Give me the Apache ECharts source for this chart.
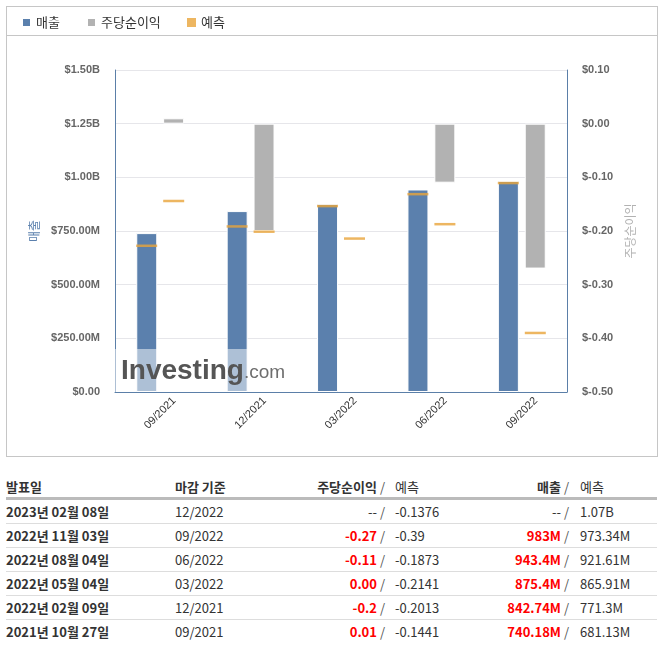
<!DOCTYPE html>
<html>
<head>
<meta charset="utf-8">
<script src="https://cdn.jsdelivr.net/npm/echarts@6/dist/echarts.min.js"></script>
<style>
  body { margin: 0; background: #fff; font-family: "Noto Sans CJK KR", sans-serif; }
  #box { position: absolute; left: 6px; top: 6px; width: 650px; height: 449px; border: 1px solid #c6c6c6; }
  #sep { position: absolute; left: 6px; top: 35px; width: 652px; height: 0; border-top: 1px solid #c6c6c6; }
  #chart { position: absolute; left: 0; top: 0; width: 664px; height: 460px; }
  table { position: absolute; left: 6px; top: 475px; border-collapse: collapse; table-layout: fixed; width: 651px; font-size: 13px; color: #333; }
  td, th { height: 23px; padding: 0; white-space: nowrap; }
  th { font-weight: bold; text-align: left; border-bottom: 3px solid #bbb; height: 22px; }
  td { border-bottom: 1px solid #ddd; }
  tr:last-child td { border-bottom: none; }
  .r { text-align: right; }
  .pl { padding-left: 10px; }
  .pl2 { padding-left: 11px; }
  .date { font-weight: bold; }
  .red { color: #ff0000; font-weight: bold; }
  .sl { color: #555; font-weight: normal; }
</style>
</head>
<body>
<div id="box"></div>
<div id="sep"></div>
<div id="chart"></div>
<table id="tbl">
  <colgroup>
    <col style="width:169px"><col style="width:110px"><col style="width:100px">
    <col style="width:90px"><col style="width:94px"><col style="width:88px">
  </colgroup>
  <thead>
    <tr><th>발표일</th><th>마감 기준</th><th class="r">주당순이익 <span class="sl">/</span></th>
        <th class="pl" style="font-weight:normal">예측</th><th class="r">매출 <span class="sl">/</span></th>
        <th class="pl2" style="font-weight:normal">예측</th></tr>
  </thead>
  <tbody id="rows"></tbody>
</table>
<script>
// chart data
const periods = ['09/2021', '12/2021', '03/2022', '06/2022', '09/2022'];
const revenue = [740.18e6, 842.74e6, 875.4e6, 943.4e6, 983e6];
const revenueForecast = [681.13e6, 771.3e6, 865.91e6, 921.61e6, 973.34e6];
const eps = [0.01, -0.2, 0.00, -0.11, -0.27];
const epsForecast = [-0.1441, -0.2013, -0.2141, -0.1873, -0.39];

// table data
const releaseDates = ['2023년 02월 08일', '2022년 11월 03일', '2022년 08월 04일', '2022년 05월 04일', '2022년 02월 09일', '2021년 10월 27일'];
const tablePeriods = ['12/2022', '09/2022', '06/2022', '03/2022', '12/2021', '09/2021'];
const epsText = ['--', '-0.27', '-0.11', '0.00', '-0.2', '0.01'];
const epsForecastText = ['-0.1376', '-0.39', '-0.1873', '-0.2141', '-0.2013', '-0.1441'];
const revText = ['--', '983M', '943.4M', '875.4M', '842.74M', '740.18M'];
const revForecastText = ['1.07B', '973.34M', '921.61M', '865.91M', '771.3M', '681.13M'];

const blue = '#5b80ad', gray = '#b2b2b2', orange = '#e9a43a';

function fmtRev(v) {
  if (v >= 1e9) return '$' + (v / 1e9).toFixed(2) + 'B';
  if (v > 0) return '$' + (v / 1e6).toFixed(2) + 'M';
  return '$0.00';
}

const chart = echarts.init(document.getElementById('chart'), null, { renderer: 'canvas' });
const legendText = { fontSize: 13, color: '#333', fontFamily: 'Noto Sans CJK KR' };
const mkLegend = (name, left) => ({
  data: [{ name: name, icon: 'rect' }], left: left, top: 11,
  itemWidth: 9, itemHeight: 9, itemGap: 4, textStyle: legendText, selectedMode: false
});

// a zero-height bar should not cut the grid line with its white border
const epsData = eps.map(v => v === 0 ? { value: v, itemStyle: { borderWidth: 0 } } : v);

chart.setOption({
  animation: false,
  legend: [mkLegend('매출', 16), mkLegend('주당순이익', 81), mkLegend('예측', 182)],
  grid: { left: 115, right: 97, top: 70, bottom: 68 },
  xAxis: {
    type: 'category', data: periods,
    axisLine: { lineStyle: { color: '#5b7fa8' } },
    axisTick: { lineStyle: { color: '#5b7fa8' }, length: 5 },
    axisLabel: { rotate: 45, align: 'center', verticalAlign: 'middle', fontSize: 11, color: '#333', fontFamily: 'Liberation Sans', margin: 21 }
  },
  yAxis: [{
    type: 'value', min: 0, max: 1.5e9, interval: 2.5e8,
    name: '매출', nameLocation: 'middle', nameGap: 73,
    nameTextStyle: { color: blue, fontSize: 12, fontFamily: 'Noto Sans CJK KR' },
    axisLine: { show: true, lineStyle: { color: '#5b7fa8' } },
    axisTick: { show: false },
    axisLabel: { formatter: fmtRev, fontSize: 11, fontWeight: 'bold', color: '#666', fontFamily: 'Liberation Sans', margin: 15 },
    splitLine: { lineStyle: { color: '#e6e6ea' } }
  }, {
    type: 'value', min: -0.5, max: 0.1, interval: 0.1,
    name: '주당순이익', nameLocation: 'middle', nameGap: 54,
    nameTextStyle: { color: gray, fontSize: 12, fontFamily: 'Noto Sans CJK KR' },
    axisLine: { show: true, lineStyle: { color: '#5b7fa8' } },
    axisTick: { show: false },
    axisLabel: { formatter: v => '$' + v.toFixed(2), fontSize: 11, fontWeight: 'bold', color: '#666', fontFamily: 'Liberation Sans', margin: 15 },
    splitLine: { show: false }
  }],
  series: [{
    name: '매출', type: 'bar', yAxisIndex: 0, data: revenue,
    barWidth: 21, barGap: '28%',
    itemStyle: { color: blue, borderColor: '#fff', borderWidth: 1 }
  }, {
    name: '주당순이익', type: 'bar', yAxisIndex: 1, data: epsData,
    barWidth: 21, barGap: '28%',
    itemStyle: { color: gray, borderColor: '#fff', borderWidth: 1 }
  }, {
    name: '예측', type: 'scatter', yAxisIndex: 0, data: revenueForecast,
    symbol: 'rect', symbolSize: [21, 2.5], symbolOffset: [-13.5, 0],
    itemStyle: { color: orange }, z: 5
  }, {
    name: '예측', type: 'scatter', yAxisIndex: 1, data: epsForecast,
    symbol: 'rect', symbolSize: [21, 2.5], symbolOffset: [13.5, 0],
    itemStyle: { color: orange }, z: 5
  }],
  graphic: [
    { type: 'rect', z: 100, shape: { x: 115, y: 349, width: 175, height: 43 }, style: { fill: 'rgba(255,255,255,0.5)' } },
    { type: 'text', z: 101, x: 121, y: 371, style: { text: 'Investing', fill: '#555', font: 'bold 28px "Liberation Sans"', verticalAlign: 'middle' } },
    { type: 'text', z: 101, x: 244, y: 373, style: { text: '.com', fill: '#6e6e6e', font: '19px "Liberation Sans"', verticalAlign: 'middle' } }
  ]
});

// table rows
const tbody = document.getElementById('rows');
releaseDates.forEach((d, i) => {
  const epsCls = epsText[i] === '--' ? '' : 'red';
  const revCls = revText[i] === '--' ? '' : 'red';
  const tr = document.createElement('tr');
  tr.innerHTML =
    '<td class="date">' + d + '</td>' +
    '<td>' + tablePeriods[i] + '</td>' +
    '<td class="r"><span class="' + epsCls + '">' + epsText[i] + '</span> <span class="sl">/</span></td>' +
    '<td class="pl">' + epsForecastText[i] + '</td>' +
    '<td class="r"><span class="' + revCls + '">' + revText[i] + '</span> <span class="sl">/</span></td>' +
    '<td class="pl2">' + revForecastText[i] + '</td>';
  tbody.appendChild(tr);
});
</script>
</body>
</html>
